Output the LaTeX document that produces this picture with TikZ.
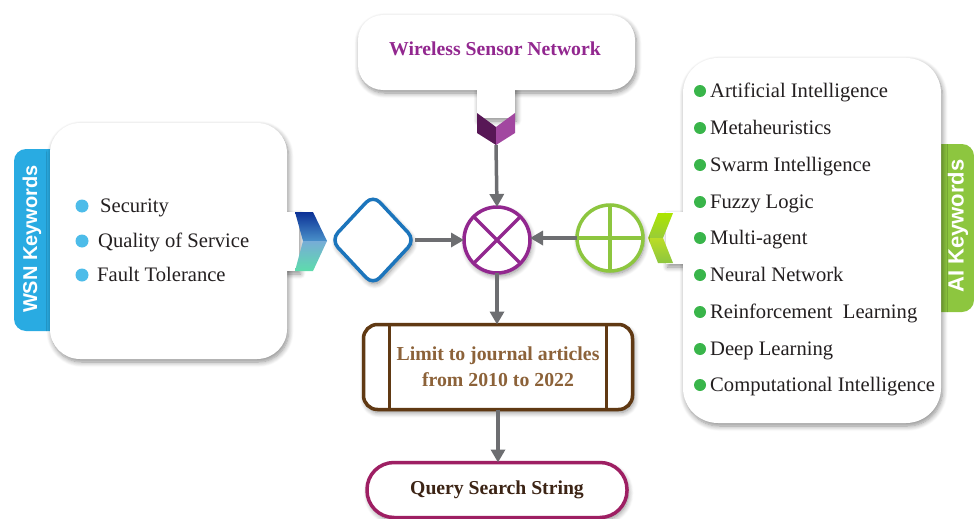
\documentclass[tikz,border=0pt]{standalone}
\usepackage{fontspec}
\setmainfont{Liberation Serif}
\newfontfamily\tabfont{Liberation Sans}
\usetikzlibrary{shadows.blur,shapes.geometric,arrows.meta}
\definecolor{arrowgray}{HTML}{6D6E71}
\definecolor{wsnblue}{HTML}{29ABE2}
\definecolor{bulletblue}{HTML}{4DBCE9}
\definecolor{diamblue}{HTML}{1C75BC}
\definecolor{xpurple}{HTML}{92278F}
\definecolor{pgreen}{HTML}{8DC63F}
\definecolor{bgreen}{HTML}{39B54A}
\definecolor{aigreen}{HTML}{8DC63F}
\definecolor{limbrown}{HTML}{603913}
\definecolor{limtext}{HTML}{8C6239}
\definecolor{qred}{HTML}{9E1F63}
\definecolor{qtext}{HTML}{3C2415}
\definecolor{txt}{HTML}{231F20}
\tikzset{
  shad/.style={blur shadow={shadow blur steps=8,shadow xshift=1.5pt,shadow yshift=-3pt,shadow opacity=45,shadow blur radius=5pt}},
  wbox/.style={fill=white,shad,inner sep=0pt,outer sep=0pt},
  conn/.style={draw=arrowgray,line width=3.5pt,-{Triangle[length=13pt,width=14pt]}},
  bul/.style={circle,inner sep=0pt,minimum size=13pt},
  itm/.style={anchor=base west,inner sep=0pt,text=txt,font=\fontsize{20.6}{24}\selectfont},
  tabtxt/.style={text=white,font=\tabfont\bfseries\fontsize{20}{24}\selectfont,rotate=90,inner sep=0pt},
}
\begin{document}
\begin{tikzpicture}[x=1pt,y=-1pt]
\useasboundingbox (0,0) rectangle (974,519);
% ---------- left WSN box ----------
\fill[wsnblue,rounded corners=12pt] (14,149) rectangle (62,331);
\node[tabtxt] (wsntab) at (32,239) {WSN Keywords};
\fill[white,shad] (280,212) rectangle (299,271);
\node[wbox,rounded corners=30pt,minimum width=237pt,minimum height=236pt,anchor=north west] (wsnbox) at (50,123) {};
\fill[white] (270,212) rectangle (299,271);
\shade[top color=diamblue!60!blue!70!black,bottom color=diamblue!80!white] (295,212) -- (313,212) -- (327,241) -- (303,241) -- cycle;
\shade[top color=diamblue!60!white,bottom color=wsnblue!60!green!70!white] (303,241) -- (327,241) -- (313,271) -- (295,271) -- cycle;
\foreach \yy/\t/\xx [count=\i] in {206/Security/100,241/Quality of Service/98,275/Fault Tolerance/97}{
  \node[bul,fill=bulletblue] (wb\i) at (82,\yy) {};
  \node[itm] (wt\i) at (\xx,\yy+6) {\t};
}
% ---------- top WSN box ----------
\fill[white,shad] (477,85) rectangle (515,118);
\node[wbox,rounded corners=25pt,minimum width=277pt,minimum height=75pt,anchor=north west] (topbox) at (358,15) {};
\fill[white] (477,80) rectangle (515,118);
\node[text=xpurple,font=\bfseries\fontsize{19.7}{23}\selectfont] (toptxt) at (495,49) {Wireless Sensor Network};
\fill[xpurple!60!black] (477,113) -- (496,127) -- (496,145) -- (477,133) -- cycle;
\fill[xpurple!85!white] (496,127) -- (515,113) -- (515,133) -- (496,145) -- cycle;
\coordinate (chevT) at (496,145);
% ---------- right AI box ----------
\fill[aigreen,rounded corners=12pt] (925,144) rectangle (974,312);
\node[tabtxt,font=\tabfont\bfseries\fontsize{22}{26}\selectfont] (aitab) at (958,226) {AI Keywords};
\fill[white,shad] (666,212) rectangle (690,264);
\node[wbox,rounded corners=35pt,minimum width=258pt,minimum height=365pt,anchor=north west] (aibox) at (683,58) {};
\fill[white] (666,212) rectangle (695,264);
\shade[top color=yellow!75!green!90!black,bottom color=aigreen!90!yellow] (658,213) -- (673,213) -- (663,238) -- (648,238) -- cycle;
\shade[top color=aigreen!60!yellow,bottom color=aigreen] (648,238) -- (663,238) -- (673,263) -- (658,263) -- cycle;
\foreach \yy/\t [count=\i] in {91/Artificial Intelligence,128/Metaheuristics,165/Swarm Intelligence,202/Fuzzy Logic,238/Multi-agent,275/Neural Network,312/Reinforcement\ \ Learning,349/Deep Learning,385/Computational Intelligence}{
  \node[bul,fill=bgreen,minimum size=12pt] (ab\i) at (700,\yy) {};
  \node[itm] (at\i) at (710,\yy+6) {\t};
}
% ---------- diamond and circles ----------
\node[diamond,draw=diamblue,fill=white,line width=3.5pt,rounded corners=10pt,minimum width=84pt,minimum height=90pt,inner sep=0pt,outer sep=0pt,shad] (D) at (373,240) {};
\node[circle,draw=xpurple,fill=white,line width=3.5pt,minimum size=66pt,inner sep=0pt,outer sep=0pt,shad] (X) at (497,240) {};
\draw[xpurple,line width=3.5pt] (X.north west) -- (X.south east) (X.north east) -- (X.south west);
\node[circle,draw=pgreen,fill=white,line width=3.5pt,minimum size=66pt,inner sep=0pt,outer sep=0pt,shad] (P) at (610,238) {};
\draw[pgreen,line width=3.5pt] (P.north) -- (P.south) (P.west) -- (P.east);
% ---------- limit and query ----------
\node[draw=limbrown,fill=white,line width=3.5pt,rounded corners=14pt,minimum width=269pt,minimum height=85pt,inner sep=0pt,outer sep=0pt,shad,align=center,text=limtext,font=\bfseries\fontsize{19.8}{26}\selectfont] (L) at (498,367) {Limit to journal articles\\from 2010 to 2022};
\draw[limbrown,line width=3.5pt] ([xshift=26pt]L.north west) -- ([xshift=26pt]L.south west) ([xshift=-26pt]L.north east) -- ([xshift=-26pt]L.south east);
\node[draw=qred,fill=white,line width=3.5pt,rounded corners=27pt,minimum width=260pt,minimum height=55pt,inner sep=0pt,outer sep=0pt,shad,text=qtext,font=\bfseries\fontsize{19.7}{23}\selectfont] (Q) at (497,490) {Query Search String};
% ---------- connectors ----------
\draw[conn] (D.east) -- (D.east -| X.west);
\draw[conn] (P.west) -- (P.west -| X.east);
\draw[conn] (chevT) -- (X.north);
\draw[conn] (X.south) -- (X.south |- L.north);
\draw[conn] (L.south) -- (L.south |- Q.north);
\end{tikzpicture}
\end{document}
